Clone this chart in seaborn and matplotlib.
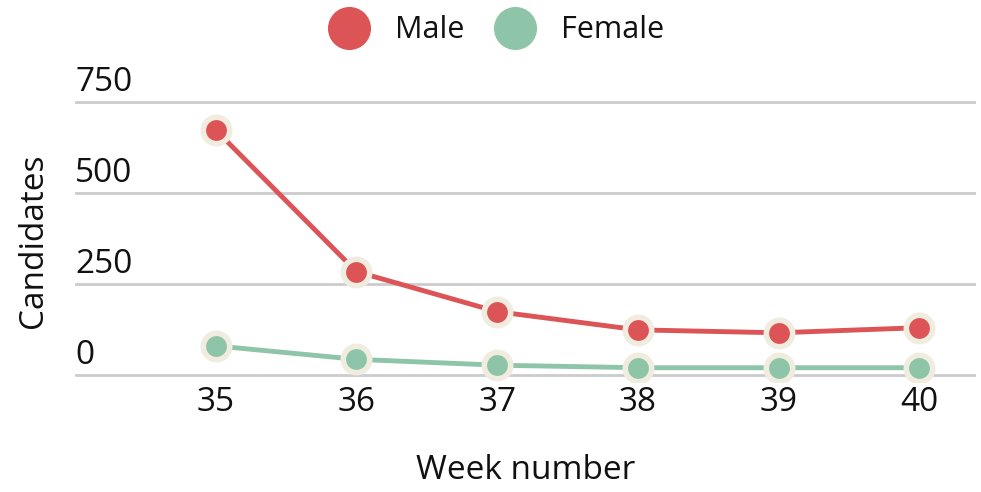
import matplotlib
matplotlib.use("Agg")
import matplotlib.pyplot as plt
import matplotlib.transforms as mtransforms
from matplotlib.lines import Line2D
import seaborn as sns
import pandas as pd

weeks = [35, 36, 37, 38, 39, 40]
male = [673, 284, 174, 124, 116, 130]
female = [80, 43, 27, 20, 20, 20]
series_names = ["Male", "Female"]
y_ticks = [0, 250, 500, 750]

colors = {"Male": "#DC5456", "Female": "#8EC4A7"}
edge = "#F0ECDF"
ink = "#111111"

df = pd.DataFrame({
    "week": weeks * 2,
    "count": male + female,
    "sex": ["Male"] * len(weeks) + ["Female"] * len(weeks),
})

sns.set_theme(style="white")
plt.rcParams["font.family"] = ["Open Sans", "DejaVu Sans"]

fig = plt.figure(figsize=(9.81, 4.92), dpi=100)
ax = fig.add_axes([0.0765, 0.223, 0.918, 0.577])

sns.lineplot(data=df, x="week", y="count", hue="sex", hue_order=series_names,
             palette=colors, marker="o", markersize=19, markeredgewidth=4,
             markeredgecolor=edge, linewidth=3.5, legend=False, ax=ax,
             zorder=3)

ax.set_xlim(34, 40.4)
ax.set_ylim(-20, 760)
ax.set_yticks(y_ticks)
ax.set_yticklabels([])
ax.tick_params(axis="y", length=0)
ax.yaxis.grid(True, color="#CCCCCC", linewidth=2)
ax.set_axisbelow(True)
for s in ax.spines.values():
    s.set_visible(False)

ax.set_xticks(weeks)
ax.set_xticklabels([str(w) for w in weeks], fontsize=24, color=ink)
ax.tick_params(axis="x", length=0, pad=3)

# value labels sit just above each gridline, flush with its left end
trans = mtransforms.blended_transform_factory(ax.transAxes, ax.transData)
offset = mtransforms.ScaledTranslation(0, 2 / 72, fig.dpi_scale_trans)
for v in y_ticks:
    ax.text(0.0, v, str(v), transform=trans + offset, ha="left", va="bottom",
            fontsize=24, color=ink)

ax.set_xlabel("Week number", fontsize=24, labelpad=25, color=ink)
ax.set_ylabel("Candidates", fontsize=24, color=ink)
ax.yaxis.set_label_coords(-0.028, 0.5)

handles = [Line2D([], [], linestyle="none", marker="o", markersize=31,
                  markerfacecolor=colors[n], markeredgewidth=0) for n in series_names]
fig.legend(handles, series_names, loc="upper center", bbox_to_anchor=(0.507, 1.025),
           ncol=2, frameon=False, fontsize=22, handletextpad=0.9,
           columnspacing=1.05, handlelength=1.2, labelcolor=ink)

fig.savefig("out.png", dpi=100)
